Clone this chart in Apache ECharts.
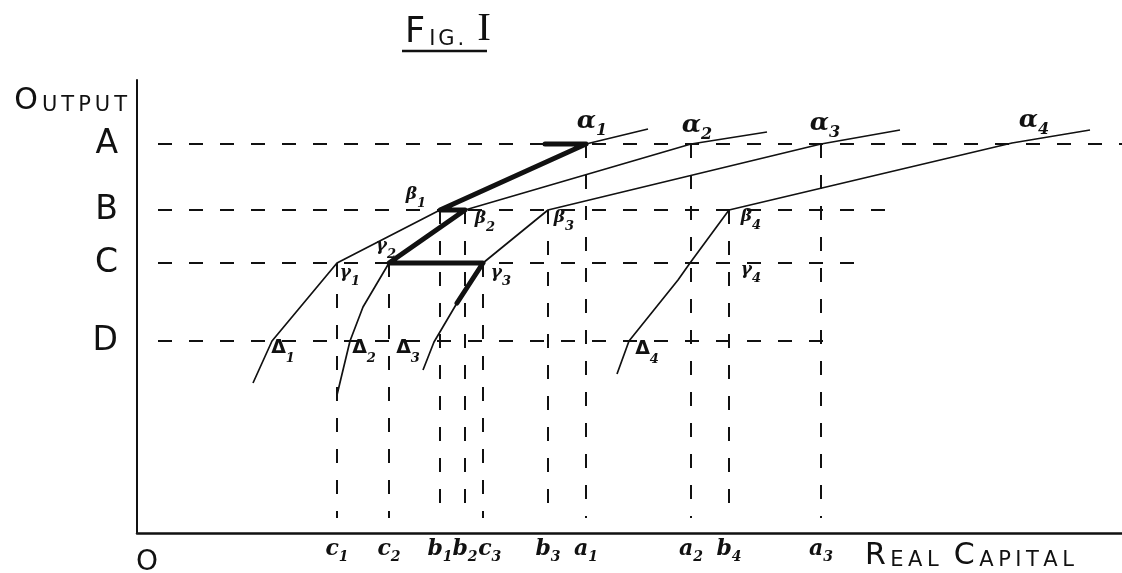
<!DOCTYPE html>
<html><head><meta charset="utf-8">
<script src="https://cdn.jsdelivr.net/npm/echarts@6/dist/echarts.min.js"></script>
<style>html,body{margin:0;padding:0;background:#fff}#c{width:1122px;height:573px}</style>
</head><body><div id="c"></div>
<script>
// ---- data (chart units: capital on x, output on y) ----
const levelNames  = ['A', 'B', 'C', 'D'];
const levelValues = [38.9, 32.3, 27.0, 19.2];
const levelEnds   = [98.5, 76.1, 72.9, 69.6];
const levelStart  = 2.1;

const capitalNames  = ['c1', 'c2', 'b1', 'b2', 'c3', 'b3', 'a1', 'a2', 'b4', 'a3'];
const capitalValues = [20.0, 25.2, 30.3, 32.8, 34.6, 41.1, 44.9, 55.4, 59.2, 68.4];
const capitalLevel  = ['C', 'C', 'B', 'B', 'C', 'B', 'A', 'A', 'B', 'A'];
const capitalBottom = 1.5;

const curve1 = [[11.6, 15.0], [13.5, 19.2], [20.0, 27.0], [30.3, 32.3], [44.9, 38.9], [51.1, 40.4]];
const curve2 = [[20.0, 13.8], [20.6, 16.3], [21.3, 19.2], [22.6, 22.6], [25.2, 27.0], [32.8, 32.3], [55.4, 38.9], [63.0, 40.1]];
const curve3 = [[28.6, 16.3], [29.7, 19.1], [32.0, 23.0], [34.6, 27.0], [41.1, 32.3], [68.4, 38.9], [76.3, 40.3]];
const curve4 = [[48.0, 15.9], [49.2, 19.2], [54.1, 25.3], [55.3, 27.0], [59.2, 32.3], [87.5, 39.0], [95.3, 40.3]];
const curves = [curve1, curve2, curve3, curve4];

// index of each named vertex within the curves
const deltaIdx = [1, 2, 1, 1];
const gammaIdx = [2, 4, 3, 3];
const betaIdx  = [3, 5, 4, 4];
const alphaIdx = [4, 6, 5, 5];

const pathOfAdjustment = [[32.0, 23.0], [34.6, 27.0], [25.2, 27.0], [32.8, 32.3], [30.3, 32.3], [44.9, 38.9], [40.8, 38.9]];

// ---- styling ----
const ink = '#111';
const sans = '"DejaVu Sans", sans-serif';
const serif = '"DejaVu Serif", "Liberation Serif", serif';

// pixel offsets of vertex labels from their vertex (style only)
const labelOffsets = {
  'α1': [6, -20], 'α2': [6, -16], 'α3': [4, -18], 'α4': [22, -20],
  'β1': [-24, -12], 'β2': [20, 12], 'β3': [16, 11], 'β4': [22, 10],
  'γ1': [13, 13], 'γ2': [-3, -14], 'γ3': [18, 13], 'γ4': [61, 10],
  'Δ1': [11, 11], 'Δ2': [14, 11], 'Δ3': [-26, 10], 'Δ4': [18, 12]
};
// crowded capital labels get an invisible lead-in so they sit a little to the right
const capitalNudged = ['c3'];

function caps(text, big, small) {
  return text.split(' ').map(w => '{' + big + '|' + w[0] + '}' +
    w.slice(1).split('').map(ch => '{' + small + '|' + ch + '}').join('')).join('{gap| }');
}

const series = [];

// dashed output levels
levelValues.forEach((v, i) => {
  series.push({
    type: 'line', symbol: 'none', silent: true,
    data: [[levelStart, v], [levelEnds[i], v]],
    lineStyle: { color: ink, width: 2, type: [14, 17] }
  });
});
// dashed capital lines
capitalValues.forEach((x, i) => {
  const top = levelValues[levelNames.indexOf(capitalLevel[i])];
  series.push({
    type: 'line', symbol: 'none', silent: true,
    data: [[x, top], [x, capitalBottom]],
    lineStyle: { color: ink, width: 2, type: [14, 17] }
  });
});
// curves
curves.forEach(c => {
  series.push({
    type: 'line', symbol: 'none', silent: true, data: c,
    lineStyle: { color: ink, width: 1.7 }
  });
});
// thick path
series.push({
  type: 'line', symbol: 'none', silent: true, data: pathOfAdjustment,
  lineStyle: { color: ink, width: 5, join: 'round', cap: 'round' }
});

// vertex labels
const greek = [['α', alphaIdx], ['β', betaIdx], ['γ', gammaIdx], ['Δ', deltaIdx]];
const labelData = [];
greek.forEach(([sym, idxs]) => {
  idxs.forEach((pi, ci) => {
    const key = sym + (ci + 1);
    const st = sym === 'α' ? 'ga' : (sym === 'Δ' ? 'gd' : 'gb');
    labelData.push({
      value: curves[ci][pi],
      label: { formatter: '{' + st + '|' + sym + '}{' + (sym === 'α' ? 'na' : 'n') + '|' + (ci + 1) + '}', offset: labelOffsets[key] }
    });
  });
});
labelData.push({ value: [0, 0], label: { formatter: '{o|O}', offset: [10, 30] } });

series.push({
  type: 'scatter', symbolSize: 0.5, silent: true,
  itemStyle: { color: '#fff', opacity: 1 },
  data: labelData,
  label: {
    show: true, position: 'inside', color: ink, opacity: 1,
    textBorderWidth: 0,
    rich: {
      ga: { fontFamily: serif, fontStyle: 'italic', fontWeight: 'bold', fontSize: 25, lineHeight: 30, verticalAlign: 'top', color: ink },
      gb: { fontFamily: serif, fontStyle: 'italic', fontWeight: 'bold', fontSize: 17, lineHeight: 24, verticalAlign: 'top', color: ink },
      gd: { fontFamily: sans, fontWeight: 'bold', fontSize: 19, lineHeight: 26, verticalAlign: 'top', color: ink },
      n:  { fontFamily: serif, fontStyle: 'italic', fontWeight: 'bold', fontSize: 13, lineHeight: 14, verticalAlign: 'bottom', color: ink },
      na: { fontFamily: serif, fontStyle: 'italic', fontWeight: 'bold', fontSize: 16, lineHeight: 17, verticalAlign: 'bottom', color: ink },
      o:  { fontFamily: sans, fontSize: 28, color: ink }
    }
  }
});

const chart = echarts.init(document.getElementById('c'), null, { renderer: 'canvas' });
chart.setOption({
  animation: false,
  backgroundColor: '#fff',
  title: {
    text: '{b|F}{s|I}{s|G}{s|.}{r|I}',
    left: 400, top: 4,
    textStyle: {
      fontWeight: 'normal',
      rich: {
        b: { fontFamily: sans, fontWeight: 'normal', fontSize: 35, color: ink, verticalAlign: 'bottom', padding: [0, 4, 0, 0] },
        s: { fontFamily: sans, fontWeight: 'normal', fontSize: 21, color: ink, verticalAlign: 'bottom', padding: [0, 3, 0, 0] },
        r: { fontFamily: '"Liberation Serif", serif', fontWeight: 'normal', fontSize: 41, color: ink, verticalAlign: 'bottom', padding: [0, 0, 0, 10] }
      }
    }
  },
  graphic: [{ type: 'line', shape: { x1: 402, y1: 51, x2: 487, y2: 51 }, style: { stroke: ink, lineWidth: 2.5 } }],
  grid: { left: 137, right: 0, top: 80, bottom: 40, containLabel: false, outerBoundsMode: 'none' },
  xAxis: {
    type: 'value', min: 0, max: 98.5,
    name: caps('REAL CAPITAL', 'b', 's'),
    nameLocation: 'end', nameGap: -257, nameMoveOverlap: false,
    nameTextStyle: {
      align: 'left', verticalAlign: 'top', padding: [8, 0, 0, 0],
      rich: {
        b: { fontFamily: sans, fontSize: 30, color: ink, verticalAlign: 'bottom', padding: [0, 4.5, 0, 0] },
        s: { fontFamily: sans, fontSize: 21, color: ink, verticalAlign: 'bottom', padding: [0, 4.5, 0, 0] },
        gap: { fontFamily: sans, fontSize: 21, verticalAlign: 'bottom', padding: [0, 4, 0, 0] }
      }
    },
    axisLine: { show: true, lineStyle: { color: ink, width: 2.5 } },
    axisTick: { show: false },
    splitLine: { show: false },
    axisLabel: {
      customValues: capitalValues, hideOverlap: false, margin: 5,
      formatter: v => {
        const i = capitalValues.indexOf(v);
        if (i < 0) return '';
        const n = capitalNames[i];
        const lead = capitalNudged.indexOf(n) >= 0 ? '{pad|c}' : '';
        return lead + '{l|' + n[0] + '}{n|' + n.slice(1) + '}';
      },
      rich: {
        pad: { fontFamily: serif, fontStyle: 'italic', fontWeight: 'bold', fontSize: 22, lineHeight: 26, verticalAlign: 'top', color: 'rgba(0,0,0,0)' },
        l: { fontFamily: serif, fontStyle: 'italic', fontWeight: 'bold', fontSize: 22, lineHeight: 26, verticalAlign: 'top', color: ink },
        n: { fontFamily: serif, fontStyle: 'italic', fontWeight: 'bold', fontSize: 14, lineHeight: 14, verticalAlign: 'bottom', color: ink }
      }
    }
  },
  yAxis: {
    type: 'value', min: 0, max: 45.3,
    name: caps('OUTPUT', 'b', 's'),
    nameLocation: 'end', nameGap: -21, nameMoveOverlap: false,
    nameTextStyle: {
      align: 'right', verticalAlign: 'middle', padding: [0, 6, 0, 0],
      rich: {
        b: { fontFamily: sans, fontSize: 30, color: ink, verticalAlign: 'bottom', padding: [0, 4, 0, 0] },
        s: { fontFamily: sans, fontSize: 21, color: ink, verticalAlign: 'bottom', padding: [0, 4, 0, 0] }
      }
    },
    axisLine: { show: true, lineStyle: { color: ink, width: 2 } },
    axisTick: { show: false },
    splitLine: { show: false },
    axisLabel: {
      customValues: levelValues, margin: 19, hideOverlap: false,
      formatter: v => { const i = levelValues.indexOf(v); return i < 0 ? '' : levelNames[i]; },
      fontFamily: sans, fontSize: 33, color: ink
    }
  },
  series: series
});
</script>
</body></html>
